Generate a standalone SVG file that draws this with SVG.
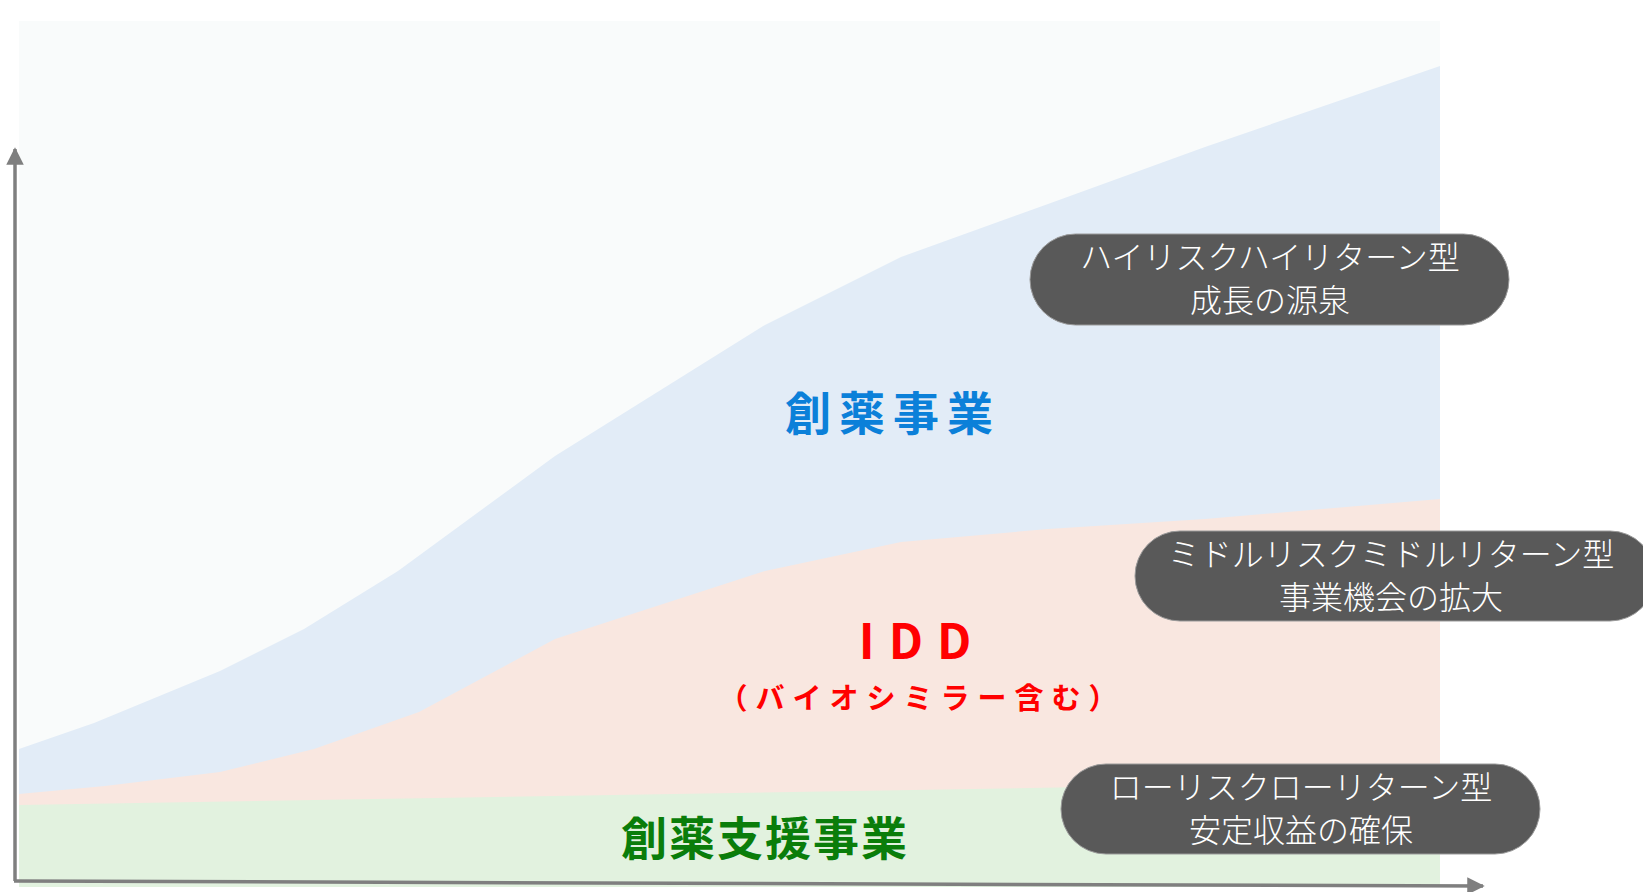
<svg xmlns="http://www.w3.org/2000/svg" width="1643" height="892" viewBox="0 0 1643 892">
<defs>
<style>
.pill{fill:#595959;stroke:#9a9a9a;stroke-width:1}
.pt{fill:#ffffff;font-family:"Noto Sans CJK JP",sans-serif;font-size:32px;font-weight:300;text-anchor:middle;dominant-baseline:central}
.lbl{font-family:"Noto Sans CJK JP",sans-serif;font-weight:bold;text-anchor:middle;dominant-baseline:central}
.axis{stroke:#7f7f7f;stroke-width:3.5;fill:none}
</style>
<marker id="ah" viewBox="0 0 10 10" refX="9" refY="5" markerWidth="5.5" markerHeight="5" orient="auto" markerUnits="strokeWidth">
<path d="M0,0 L10,5 L0,10 z" fill="#7f7f7f"/>
</marker>
</defs>
<rect width="1643" height="892" fill="#ffffff"/>
<g id="chart">
<rect x="19" y="21" width="1421" height="866" fill="#f9fbfb"/>
<path d="M19,749 L94,723 L220,671 L304,629 L398,571 L555,456 L765,325 L901,257 L1048,204 L1205,147 L1440,66 L1440,887 L19,887 Z" fill="#e2ecf7"/>
<path d="M19,794 L105,786 L220,772 L314,749 L419,712 L555,639 L765,571 L901,542 L1048,529 L1205,519 L1440,499 L1440,887 L19,887 Z" fill="#f9e7e0"/>
<path d="M19,805 L1440,781 L1440,887 L19,887 Z" fill="#e2f2df"/>
</g>
<g id="connectors">
<line class="axis" x1="15" y1="881" x2="15" y2="149" marker-end="url(#ah)"/>
<line class="axis" x1="14" y1="881" x2="1483" y2="886" marker-end="url(#ah)"/>
</g>
<g id="label-souyaku">
<text class="lbl" x="893" y="410" font-size="46" fill="#0b80d9" letter-spacing="8">創薬事業</text>
</g>
<g id="label-idd">
<text class="lbl" x="922" y="638" font-size="48" fill="#ff0000" letter-spacing="14" font-family="DejaVu Sans,sans-serif">IDD</text>
<text class="lbl" x="922" y="696" font-size="29" fill="#ff0000" letter-spacing="8">（バイオシミラー含む）</text>
</g>
<g id="label-shien">
<text class="lbl" x="765" y="835" font-size="46" fill="#0a7d0a" letter-spacing="2">創薬支援事業</text>
</g>
<g id="pill-high">
<rect class="pill" x="1030" y="234" width="479" height="91" rx="45.5"/>
<text class="pt" x="1270" y="255">ハイリスクハイリターン型</text>
<text class="pt" x="1270" y="298">成長の源泉</text>
</g>
<g id="pill-middle">
<rect class="pill" x="1135" y="531" width="520" height="90" rx="45"/>
<text class="pt" x="1391" y="552">ミドルリスクミドルリターン型</text>
<text class="pt" x="1391" y="595">事業機会の拡大</text>
</g>
<g id="pill-low">
<rect class="pill" x="1061" y="764" width="479" height="90" rx="45"/>
<text class="pt" x="1301" y="785">ローリスクローリターン型</text>
<text class="pt" x="1301" y="828">安定収益の確保</text>
</g>
</svg>
